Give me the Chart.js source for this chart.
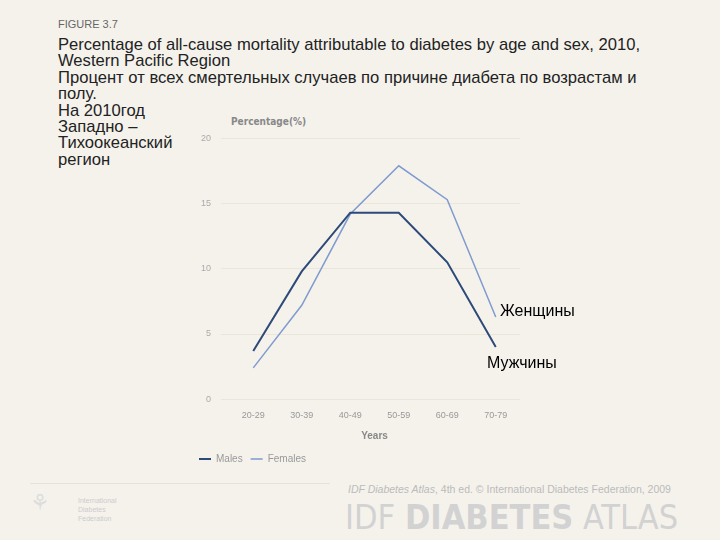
<!DOCTYPE html>
<html><head><meta charset="utf-8">
<script src="https://cdn.jsdelivr.net/npm/chart.js@4"></script>
<style>
body{margin:0;width:720px;height:540px;background:#f5f2ec;font-family:"Liberation Sans",Arial,sans-serif;position:relative;overflow:hidden}
.t{position:absolute;white-space:nowrap}
#wrap{position:absolute;left:185px;top:123px;width:345px;height:351px}
</style></head><body>
<div class="t" style="left:58px;top:18px;font-size:11px;color:#666">FIGURE 3.7</div>
<div class="t" style="left:58px;top:37px;font-size:16.6px;line-height:16.4px;color:#222">Percentage of all-cause mortality attributable to diabetes by age and sex, 2010,<br>Western Pacific Region<br>Процент от всех смертельных случаев по причине диабета по возрастам и<br>полу.<br>На 2010год<br>Западно –<br>Тихоокеанский<br>регион</div>
<div class="t" style="left:231px;top:116px;font-size:10px;font-weight:bold;color:#888;font-family:'DejaVu Sans Condensed','DejaVu Sans'">Percentage(%)</div>
<div id="wrap"><canvas id="c"></canvas></div>
<div class="t" style="left:500px;top:302px;font-size:16px;color:#000">Женщины</div>
<div class="t" style="left:487px;top:354px;font-size:16px;color:#000">Мужчины</div>
<div style="position:absolute;left:30px;top:483px;width:300px;height:1px;background:#e6e2da"></div>
<div class="t" style="left:30px;top:490px;font-size:22px;color:#ddd">⚘</div>
<div class="t" style="left:78px;top:496px;font-size:7px;line-height:9px;color:#ccc">International<br>Diabetes<br>Federation</div>
<div class="t" style="left:348px;top:483px;font-size:10.5px;color:#bbb"><i>IDF Diabetes Atlas</i>, 4th ed. © International Diabetes Federation, 2009</div>
<div class="t" style="left:345px;top:497px;font-size:34px;color:#d2d2d2;font-family:'DejaVu Sans Condensed','DejaVu Sans'">IDF <b>DIABETES</b> ATLAS</div>
<script>
const categories=["20-29","30-39","40-49","50-59","60-69","70-79"];
const males=[3.7,9.8,14.3,14.3,10.5,4.0];
const females=[2.4,7.2,14.2,17.9,15.3,6.3];
const yTicks=[0,5,10,15,20];
new Chart(document.getElementById('c'),{type:'line',
data:{labels:categories,datasets:[
{label:'Males',data:males,borderColor:'#2d4a78',borderWidth:2,pointRadius:0,tension:0},
{label:'Females',data:females,borderColor:'#7f9bcf',borderWidth:1.5,pointRadius:0,tension:0}]},
options:{responsive:true,maintainAspectRatio:false,animation:false,
layout:{padding:{left:6,right:10,top:12,bottom:0}},
plugins:{tooltip:{enabled:false},legend:{position:'bottom',align:'start',labels:{boxWidth:12,boxHeight:0,color:'#999',font:{size:10},padding:8}}},
scales:{x:{offset:true,grid:{display:false},border:{display:false},ticks:{color:'#999',font:{size:9}},title:{display:true,text:'Years',color:'#888',font:{size:10,weight:'bold'},padding:{top:6}}},
y:{min:0,max:20,afterBuildTicks:a=>{a.ticks=yTicks.map(v=>({value:v}));},grid:{color:'#ebe6dc'},border:{display:false},ticks:{color:'#aaa',font:{size:9},padding:10}}}}});
</script></body></html>
